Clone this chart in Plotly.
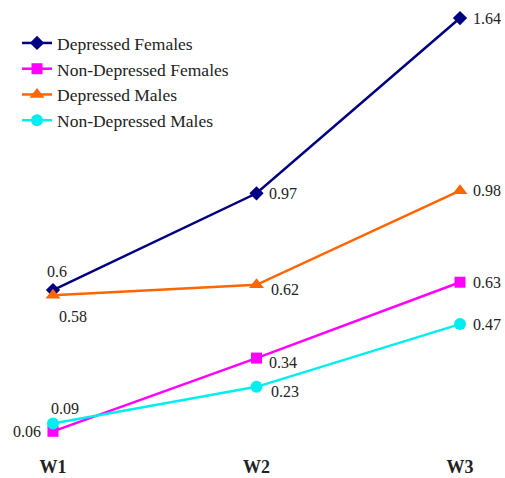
import plotly.graph_objects as go

waves = ["W1", "W2", "W3"]
series_names = ["Depressed Females", "Non-Depressed Females", "Depressed Males", "Non-Depressed Males"]
dep_females = [0.6, 0.97, 1.64]
nondep_females = [0.06, 0.34, 0.63]
dep_males = [0.58, 0.62, 0.98]
nondep_males = [0.09, 0.23, 0.47]

colors = ["#000080", "#FF00FF", "#FF6600", "#00EEF0"]
symbols = ["diamond", "square", "triangle-up", "circle"]
sizes = [11, 11, 13, 12]
all_values = [dep_females, nondep_females, dep_males, nondep_males]

xs = list(range(len(waves)))
fig = go.Figure()
for name, vals, c, s, sz in zip(series_names, all_values, colors, symbols, sizes):
    fig.add_trace(go.Scatter(x=xs, y=vals, name=name, mode="lines+markers",
                             line=dict(color=c, width=2.5),
                             marker=dict(color=c, symbol=s, size=sz),
                             cliponaxis=False))

# label offsets (pixels) per series per wave: (xshift, yshift, xanchor)
offsets = [
    [(4, 19, "center"), (10, 0, "left"), (11, 0, "left")],
    [(-10, 0, "right"), (10, -4, "left"), (11, 0, "left")],
    [(4, -21, "left"), (12, -5, "left"), (11, 0, "left")],
    [(12, 15, "center"), (12, -5, "left"), (11, 0, "left")],
]
annotations = []
for vals, offs in zip(all_values, offsets):
    for i, (v, (dx, dy, xa)) in enumerate(zip(vals, offs)):
        annotations.append(dict(x=xs[i], y=v, xref="x", yref="y", text=f"{v:g}",
                                showarrow=False, xshift=dx, yshift=dy, xanchor=xa,
                                yanchor="middle",
                                font=dict(family="Liberation Serif", size=16, color="#222")))

fig.update_layout(
    width=505, height=478,
    margin=dict(l=0, r=0, t=0, b=30),
    paper_bgcolor="white", plot_bgcolor="white",
    showlegend=True,
    legend=dict(x=0.0337, y=0.944, xanchor="left", yanchor="top",
                font=dict(family="Liberation Serif", size=17.5, color="#222"),
                bgcolor="rgba(0,0,0,0)", tracegroupgap=0),
    xaxis=dict(range=[-0.2604, 2.2211], tickvals=xs, ticktext=[f"<b>{w}</b>" for w in waves],
               showgrid=False, zeroline=False, showline=False, ticklabelstandoff=6,
               tickfont=dict(family="Liberation Serif", size=18, color="#222")),
    yaxis=dict(range=[-0.0038, 1.709], visible=False),
    annotations=annotations,
)
fig.write_html("out.html", config={"displayModeBar": False},
               post_script="document.body.style.margin='0';")
